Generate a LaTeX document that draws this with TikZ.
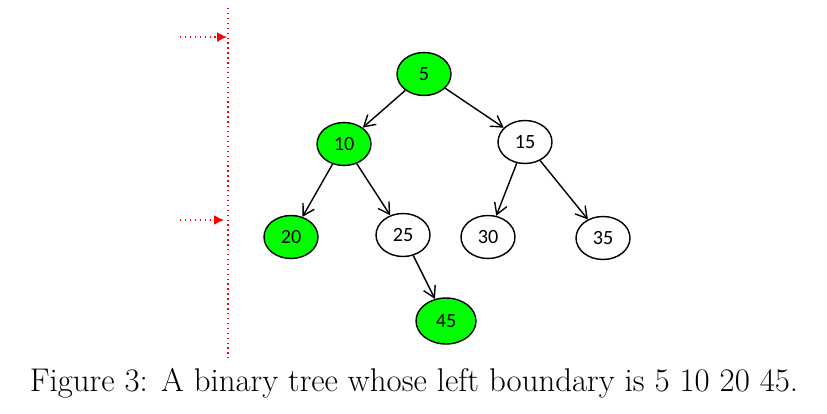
\documentclass[tikz,border=0pt]{standalone}
\usepackage{fontspec}
\newfontfamily\nodefont{Carlito}
\usepackage{tikz}
\usetikzlibrary{shapes.geometric,arrows.meta}

\tikzset{
  treenode/.style={ellipse,draw,thick,minimum width=1.08cm,minimum height=0.86cm,inner sep=0pt,font=\nodefont\fontsize{11.5}{12}\selectfont},
  boundary/.style={treenode,fill=green},
  edge/.style={-{Straight Barb[length=2.2mm,width=2.6mm]},thick},
  marker/.style={-{Latex[length=2mm,width=2mm]},red,dotted,thick}
}

\begin{document}
\begin{tikzpicture}[x=0.02cm,y=-0.02cm]
\useasboundingbox (0,0) rectangle (827,413);
% Boundary marker
\coordinate (top) at (228,8);
\coordinate (bot) at (228,358);
\draw[red,dotted,thick] (top) -- (bot);
\coordinate (m1s) at (180,37);
\coordinate (m1e) at (227,37);
\coordinate (m2s) at (180,220);
\coordinate (m2e) at (224,220);
\draw[marker] (m1s) -- (m1e);
\draw[marker] (m2s) -- (m2e);
% Tree
\node[boundary] (n5) at (424,74) {5};
\node[boundary] (n10) at (344,144) {10};
\node[treenode] (n15) at (525,142) {15};
\node[boundary] (n20) at (291,237) {20};
\node[treenode] (n25) at (403,235) {25};
\node[treenode] (n30) at (488,237) {30};
\node[treenode] (n35) at (603,238) {35};
\node[boundary,minimum width=1.2cm,minimum height=0.92cm] (n45) at (446,321) {45};
\draw[edge] (n5) -- (n10);
\draw[edge] (n5) -- (n15);
\draw[edge] (n10) -- (n20);
\draw[edge] (n10) -- (n25);
\draw[edge] (n15) -- (n30);
\draw[edge] (n15) -- (n35);
\draw[edge] (n25) -- (n45);
\node (caption) at (414,383) {\fontsize{18.7}{22}\selectfont Figure 3: A binary tree whose left boundary is 5 10 20 45.};
\end{tikzpicture}
\end{document}
